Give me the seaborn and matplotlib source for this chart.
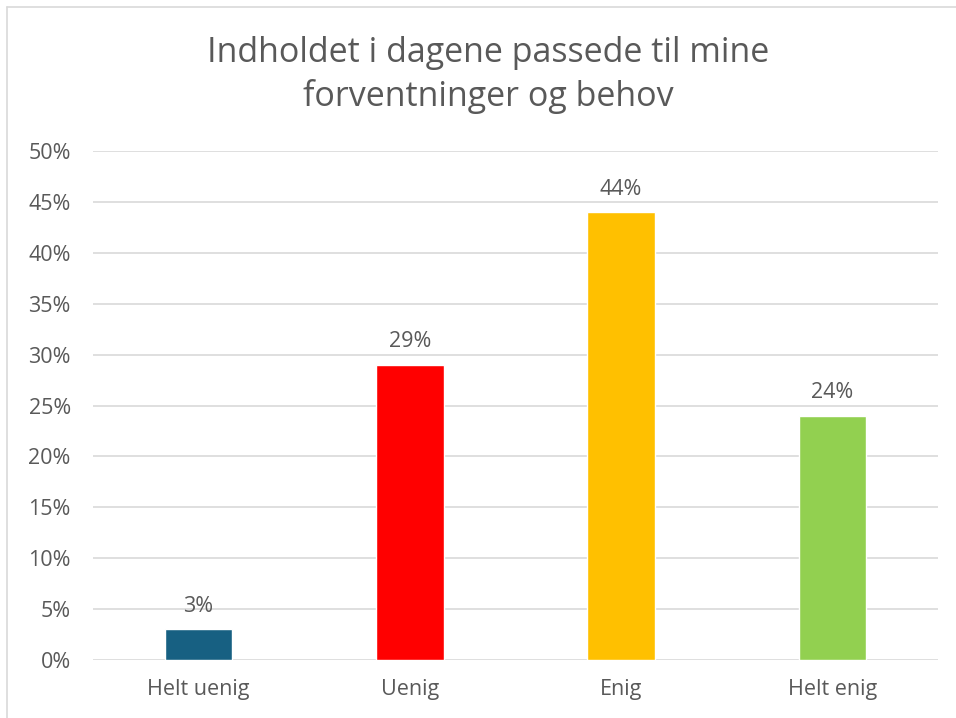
import matplotlib
matplotlib.use("Agg")
import matplotlib.pyplot as plt
import seaborn as sns
import pandas as pd
from matplotlib.lines import Line2D

categories = ["Helt uenig", "Uenig", "Enig", "Helt enig"]
values = [0.03, 0.29, 0.44, 0.24]
labels = ["3%", "29%", "44%", "24%"]
colors = ["#176082", "#FF0000", "#FFC000", "#92D050"]
yticks = [0, 0.05, 0.10, 0.15, 0.20, 0.25, 0.30, 0.35, 0.40, 0.45, 0.50]
title = "Indholdet i dagene passede til mine\nforventninger og behov"

sns.set_theme(style="white")
plt.rcParams["font.family"] = ["Open Sans", "DejaVu Sans"]
txt = "#595959"

df = pd.DataFrame({"cat": categories, "val": values})
fig = plt.figure(figsize=(9.56, 7.18), dpi=100)
ax = fig.add_axes([93/956, 1-660/718, (938-93)/956, (660-151)/718])
sns.barplot(data=df, x="cat", y="val", hue="cat", palette=colors, width=0.32,
            legend=False, ax=ax, saturation=1)
ax.set_ylim(0, 0.5)
ax.set_xlim(-0.5, 3.5)
ax.set_yticks(yticks)
ax.set_yticklabels([f"{int(round(t*100))}%" for t in yticks])
ax.yaxis.grid(True, color="#D9D9D9", linewidth=1.2)
ax.set_axisbelow(True)
for s in ax.spines.values():
    s.set_visible(False)
ax.tick_params(axis="both", length=0, labelsize=15.5, colors=txt)
ax.tick_params(axis="x", pad=14)
ax.tick_params(axis="y", pad=16)
ax.set_xlabel("")
ax.set_ylabel("")
for i, (v, l) in enumerate(zip(values, labels)):
    ax.annotate(l, (i, v), xytext=(0, 9), textcoords="offset points",
                ha="center", va="bottom", fontsize=15.5, color=txt)
fig.text(488/956, 1-75/718, title, ha="center", va="center", fontsize=24.5,
         color=txt, linespacing=1.3)
fig.add_artist(Line2D([7/956, 7/956], [0, 1-7/718], color="#D9D9D9", lw=1.2, transform=fig.transFigure))
fig.add_artist(Line2D([7/956, 1], [1-7/718, 1-7/718], color="#D9D9D9", lw=1.2, transform=fig.transFigure))
fig.savefig("out.png", dpi=100)
